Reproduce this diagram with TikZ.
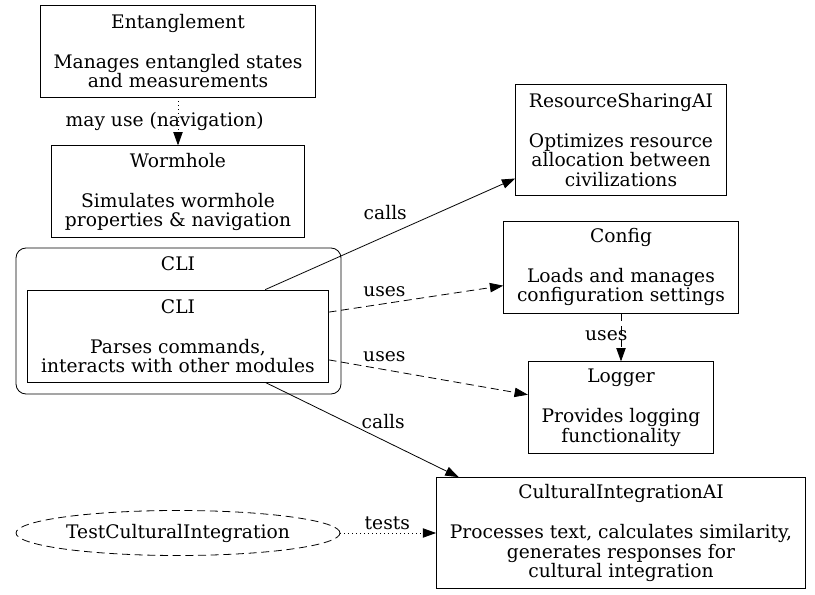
\documentclass[tikz,border=0pt]{standalone}
\usepackage{fontspec}
\setmainfont{DejaVu Serif}
\usetikzlibrary{positioning,shapes.geometric,arrows.meta}

\begin{document}
\begin{tikzpicture}[x=0.75pt, y=-0.75pt,
                    font=\fontsize{14}{14.5}\selectfont,
                    modbox/.style={rectangle, draw=black, line width=0.6pt, align=center, inner xsep=10pt, minimum height=69pt},
                    tallbox/.style={modbox, minimum height=83.25pt},
                    testnode/.style={ellipse, draw=black, line width=0.6pt, dash pattern=on 6pt off 3.5pt, minimum width=243pt, minimum height=33.75pt, inner sep=0pt},
                    link/.style={-{Triangle[length=10pt,width=7pt]}, line width=0.6pt},
                    uselink/.style={link, dash pattern=on 6pt off 3.5pt},
                    testlink/.style={link, dash pattern=on 0.75pt off 2.25pt},
                    lbl/.style={inner sep=1pt}
                ]
                    \useasboundingbox (0,0) rectangle (815,595);
                    % left column
                    \node[modbox] (ent) at (178,51) {Entanglement\\[15.5pt]Manages entangled states\\and measurements};
                    \node[modbox] (wh) [below=36pt of ent] {Wormhole\\[15.5pt]Simulates wormhole\\properties \& navigation};
                    \draw[line width=0.6pt, rounded corners=7.5pt] (16,248) rectangle (341,394);
                    \node (clititle) at (178,264) {CLI};
                    \node[modbox] (cli) at (178,336) {CLI\\[15.5pt]Parses commands,\\interacts with other modules};
                    \node[testnode] (test) at (178,533) {TestCulturalIntegration};
                    % right column
                    \node[tallbox] (rsai) at (621,140) {ResourceSharingAI\\[15.5pt]Optimizes resource\\allocation between\\civilizations};
                    \node[modbox] (cfg) at (621,267) {Config\\[15.5pt]Loads and manages\\configuration settings};
                    \node[modbox] (log) [below=36pt of cfg] {Logger\\[15.5pt]Provides logging\\functionality};
                    \node[tallbox] (cai) at (621,533) {CulturalIntegrationAI\\[15.5pt]Processes text, calculates similarity,\\generates responses for\\cultural integration};
                    % connectors
                    \draw[testlink] (ent.south) -- node[lbl, pos=0.5, xshift=-10pt] {may use (navigation)} (wh.north);
                    \draw[link] (cli.28) -- node[lbl, pos=0.48, yshift=18pt] {calls} (rsai.200);
                    \draw[uselink] (cli.9) -- node[lbl, pos=0.32, yshift=9pt] {uses} (cfg.189);
                    \draw[uselink] (cli.-9) -- node[lbl, pos=0.28, yshift=10pt] {uses} (log.172);
                    \draw[link] (cli.-28) -- node[lbl, pos=0.61, yshift=14pt] {calls} (cai.161);
                    \draw[uselink] (cfg.south) -- node[lbl, pos=0.46, xshift=-11pt] {uses} (log.north);
                    \draw[testlink] (test.east) -- node[lbl, pos=0.49, yshift=7.5pt] {tests} (cai.west);
                \end{tikzpicture}
\end{document}
